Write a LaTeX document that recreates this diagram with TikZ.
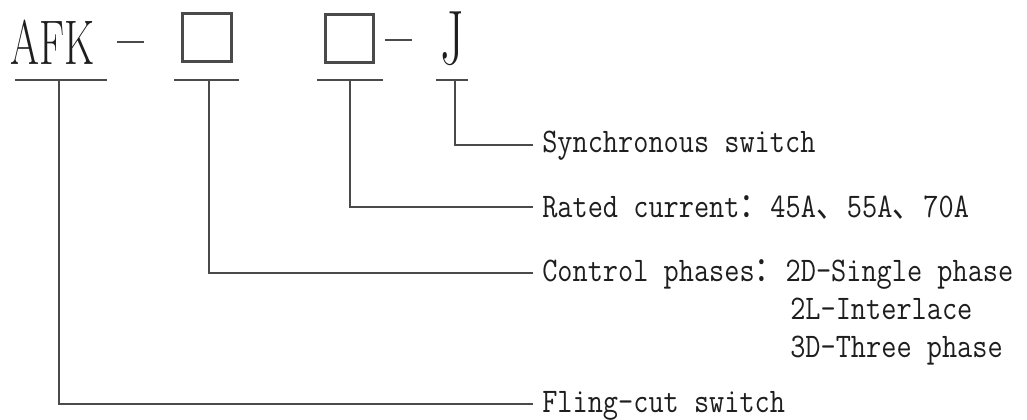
\documentclass[tikz,border=0pt]{standalone}
\usepackage{fontspec}
\newfontfamily\cjk{Noto Sans CJK SC}
\usetikzlibrary{calc}
\definecolor{lncol}{HTML}{4A4A4A}
\definecolor{txtcol}{HTML}{1E1E1E}
\newcommand{\fw}[1]{\makebox[1.05em][l]{\cjk #1}}
\newcommand{\mt}[1]{\scalebox{1}[1.17]{#1}}
\begin{document}
\begin{tikzpicture}[x=0.75pt,y=-0.75pt,
  ln/.style={draw=lncol, line width=2pt},
  dashln/.style={draw=lncol, line width=1.6pt},
  boxnode/.style={draw=lncol, line width=2.2pt, minimum width=36.5pt, minimum height=35.5pt, inner sep=0pt},
  lbl/.style={inner sep=0pt, anchor=base west, text=txtcol, font=\ttfamily\fontsize{22.1pt}{26pt}\selectfont},
  code/.style={inner sep=0pt, anchor=base west, text=txtcol, font=\fontsize{31.3pt}{36pt}\selectfont},
  ]
\useasboundingbox (0,0) rectangle (1027,420);
% code string
\node[code] (afk) at (10,65) {\scalebox{1}[1.51]{AFK}};
\draw[dashln] (117,42) -- (144,42);
\node[boxnode] (b1) at (207,37.5) {};
\node[boxnode] (b2) at (349.5,38.5) {};
\draw[dashln] (385,40) -- (412,40);
\node[code] (j) at (440,65) {\scalebox{1.2}[1.85]{J}};
% underlines
\draw[ln] (15,80) -- (107,80);
\draw[ln] (174,80) -- (239,80);
\draw[ln] (317,80) -- (383,80);
\draw[ln] (436,80) -- (468,80);
\coordinate (ua) at (59,80);
\coordinate (u1) at (209,80);
\coordinate (u2) at (350,80);
\coordinate (uj) at (455,80);
% line ends
\coordinate (ej) at (533,145);
\coordinate (e2) at (533,207);
\coordinate (e1) at (533,273);
\coordinate (ea) at (533,404);
% connectors
\draw[ln] (uj) |- (ej);
\draw[ln] (u2) |- (e2);
\draw[ln] (u1) |- (e1);
\draw[ln] (ua) |- (ea);
% labels
\node[lbl] (tj) at (542,153) {\mt{Synchronous switch}};
\node[lbl] (t2) at (542,218) {\mt{Rated current\fw{：}45A\fw{、}55A\fw{、}70A}};
\node[lbl] (t1) at (542,281) {\mt{Control phases\fw{：}2D-Single phase}};
\node[lbl] (t1b) at (790,319) {\mt{2L-Interlace}};
\node[lbl] (t1c) at (790,357) {\mt{3D-Three phase}};
\node[lbl] (ta) at (542,412) {\mt{Fling-cut switch}};
\end{tikzpicture}
\end{document}
